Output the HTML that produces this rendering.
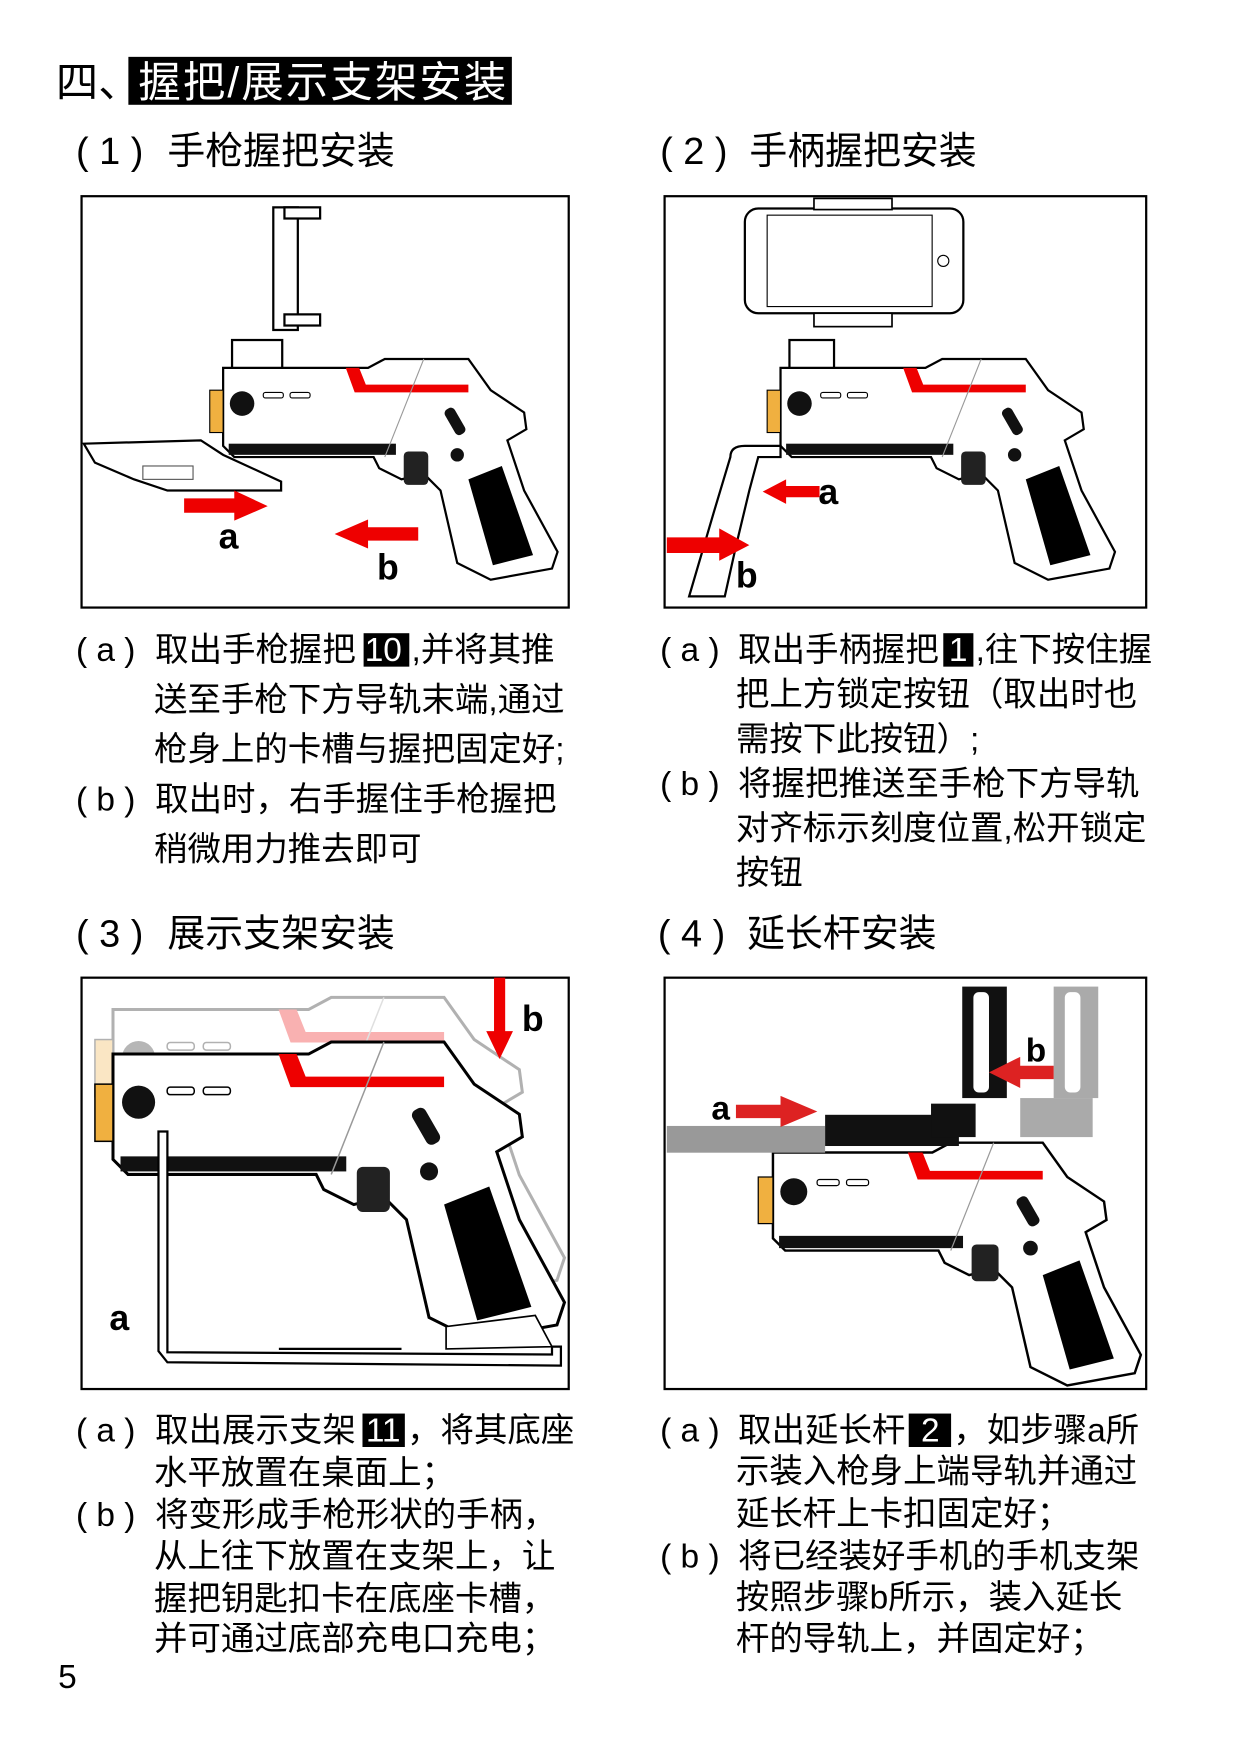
<!DOCTYPE html>
<html><head><meta charset="utf-8"><style>
html,body{margin:0;padding:0;background:#fff;}
svg{display:block;}
text{font-family:"Liberation Sans","Noto Sans CJK SC",sans-serif;fill:#000;}
</style></head><body>
<svg width="1240" height="1748" viewBox="0 0 1112 1568" xmlns="http://www.w3.org/2000/svg">
<defs>
<g id="gun">
  <path d="M200,330 L330,330 L345,322 L420,322 L440,350 L470,370 L472,385 L455,395 L470,440 L500,495 L495,510 L440,520 L410,505 L395,440 L380,425 L360,430 L340,420 L335,410 L210,410 L200,400 Z" fill="#fff" stroke="#000" stroke-width="2"/>
  <path d="M310,330 L322,330 L328,345 L420,345 L420,352 L318,352 Z" fill="#e00"/>
  <path d="M420,430 L450,418 L478,498 L442,507 Z" fill="#000"/>
  <rect x="188" y="350" width="12" height="38" fill="#f0b040" stroke="#000" stroke-width="1"/>
  <circle cx="217" cy="362" r="11" fill="#111"/>
  <rect x="236" y="352" width="18" height="5" rx="2" fill="none" stroke="#000"/>
  <rect x="260" y="352" width="18" height="5" rx="2" fill="none" stroke="#000"/>
  <rect x="205" y="398" width="150" height="10" fill="#111"/>
  <rect x="362" y="405" width="22" height="30" rx="4" fill="#222"/>
  <rect x="403" y="365" width="10" height="26" rx="4" fill="#111" transform="rotate(-30 408 378)"/>
  <circle cx="410" cy="408" r="6" fill="#111"/>
  <line x1="380" y1="322" x2="345" y2="410" stroke="#999" stroke-width="1"/>
</g>
</defs>

<!-- title -->
<text x="50" y="87" font-size="38">四、</text>
<rect x="115" y="51" width="344" height="43" fill="#000"/>
<text x="124" y="87" font-size="38" textLength="330" style="fill:#fff">握把/展示支架安装</text>

<text x="68" y="147" font-size="34">( 1 )</text>
<text x="150" y="147" font-size="34">手枪握把安装</text>
<text x="592" y="147" font-size="34">( 2 )</text>
<text x="672" y="147" font-size="34">手柄握把安装</text>

<!-- box 1 -->
<rect x="73" y="176" width="437" height="369" fill="none" stroke="#000" stroke-width="2"/>
<rect x="245" y="186" width="22" height="110" fill="#fff" stroke="#000" stroke-width="2"/>
<rect x="255" y="186" width="32" height="10" fill="#fff" stroke="#000" stroke-width="2"/>
<rect x="255" y="282" width="32" height="10" fill="#fff" stroke="#000" stroke-width="2"/>
<rect x="208" y="305" width="45" height="28" fill="#fff" stroke="#000" stroke-width="2"/>
<use href="#gun"/>
<path d="M75,398 L180,395 L200,408 L252,432 L252,440 L200,440 L150,440 L120,430 L85,415 Z" fill="#fff" stroke="#000" stroke-width="2"/>
<rect x="128" y="418" width="45" height="12" fill="none" stroke="#555"/>
<path d="M165,447 L210,447 L210,440 L240,454 L210,467 L210,460 L165,460 Z" fill="#e00"/>
<path d="M375,473 L330,473 L330,466 L300,479 L330,492 L330,485 L375,485 Z" fill="#e00"/>
<text x="196" y="492" font-size="32" font-weight="bold">a</text>
<text x="338" y="520" font-size="32" font-weight="bold">b</text>

<!-- box 2 -->
<rect x="596" y="176" width="432" height="369" fill="none" stroke="#000" stroke-width="2"/>
<rect x="668" y="187" width="196" height="94" rx="12" fill="#fff" stroke="#000" stroke-width="2"/>
<rect x="688" y="193" width="148" height="82" fill="#fff" stroke="#000" stroke-width="1"/>
<circle cx="846" cy="234" r="5" fill="none" stroke="#000"/>
<rect x="730" y="178" width="70" height="10" fill="#fff" stroke="#000" stroke-width="1.5"/>
<rect x="730" y="281" width="70" height="12" fill="#fff" stroke="#000" stroke-width="1.5"/>
<rect x="708" y="305" width="40" height="28" fill="#fff" stroke="#000" stroke-width="2"/>
<g transform="translate(500,0)"><use href="#gun"/></g>
<path d="M700,400 L668,400 Q655,400 655,410 L640,460 L618,535 L650,535 L660,490 L672,440 L680,410 L700,410 Z" fill="#fff" stroke="#000" stroke-width="2"/>
<path d="M735,436 L705,436 L705,430 L684,441 L705,452 L705,446 L735,446 Z" fill="#e00"/>
<path d="M598,482 L645,482 L645,474 L672,489 L645,503 L645,496 L598,496 Z" fill="#e00"/>
<text x="734" y="452" font-size="32" font-weight="bold">a</text>
<text x="660" y="527" font-size="32" font-weight="bold">b</text>

<!-- text block 1 -->
<g font-size="30">
<text x="68" y="593">( a )</text>
<text x="139" y="593">取出手枪握把</text>
<rect x="326" y="568" width="41" height="30" fill="#000"/>
<text x="327" y="593" style="fill:#fff">10</text>
<text x="369" y="593">,并将其推</text>
<text x="138" y="638">送至手枪下方导轨末端,通过</text>
<text x="138" y="682">枪身上的卡槽与握把固定好;</text>
<text x="68" y="727">( b )</text>
<text x="139" y="727">取出时，右手握住手枪握把</text>
<text x="138" y="772">稍微用力推去即可</text>

<text x="592" y="593">( a )</text>
<text x="662" y="593">取出手柄握把</text>
<rect x="846" y="568" width="27" height="30" fill="#000"/>
<text x="851" y="593" style="fill:#fff">1</text>
<text x="875" y="593">,往下按住握</text>
<text x="660" y="633">把上方锁定按钮（取出时也</text>
<text x="660" y="673">需按下此按钮）;</text>
<text x="592" y="713">( b )</text>
<text x="662" y="713">将握把推送至手枪下方导轨</text>
<text x="660" y="753">对齐标示刻度位置,松开锁定</text>
<text x="660" y="793">按钮</text>
</g>

<text x="68" y="849" font-size="34">( 3 )</text>
<text x="150" y="849" font-size="34">展示支架安装</text>
<text x="590" y="849" font-size="34">( 4 )</text>
<text x="670" y="849" font-size="34">延长杆安装</text>

<!-- box 3 -->
<rect x="73" y="877" width="437" height="369" fill="none" stroke="#000" stroke-width="2"/>
<g opacity="0.3" transform="translate(-168.8,460) scale(1.35)"><use href="#gun"/></g>
<g transform="translate(-168.8,500) scale(1.35)"><use href="#gun"/></g>
<path d="M142,1015 L142,1212 L150,1222 L503,1225 L503,1208 L495,1208 L495,1215 L150,1213 L150,1015 Z" fill="#fff" stroke="#000" stroke-width="2"/>
<path d="M400,1190 L480,1180 L495,1208 L400,1210 Z" fill="#fff" stroke="#000" stroke-width="1.5"/>
<line x1="250" y1="1210" x2="360" y2="1210" stroke="#000" stroke-width="2"/>
<path d="M443,877 L453,877 L453,925 L460,925 L448,950 L436,925 L443,925 Z" fill="#e00"/>
<text x="468" y="925" font-size="32" font-weight="bold">b</text>
<text x="98" y="1193" font-size="32" font-weight="bold">a</text>

<!-- box 4 -->
<rect x="596" y="877" width="432" height="369" fill="none" stroke="#000" stroke-width="2"/>
<g transform="translate(473.2,670.8) scale(1.1)"><use href="#gun"/></g>
<rect x="598" y="1010" width="142" height="24" fill="#999"/>
<rect x="740" y="1000" width="120" height="28" fill="#111"/>
<rect x="835" y="990" width="40" height="30" fill="#111"/>
<rect x="863" y="885" width="40" height="100" fill="#111"/>
<rect x="873" y="890" width="14" height="90" rx="5" fill="#fff"/>
<rect x="945" y="885" width="40" height="100" fill="#aaa"/>
<rect x="955" y="890" width="14" height="90" rx="5" fill="#fff"/>
<rect x="915" y="985" width="65" height="35" fill="#aaa"/>
<path d="M660,991 L700,991 L700,983 L733,997 L700,1011 L700,1003 L660,1003 Z" fill="#d22"/>
<path d="M945,956 L915,956 L915,948 L887,962 L915,976 L915,968 L945,968 Z" fill="#d22"/>
<text x="638" y="1004" font-size="30" font-weight="bold">a</text>
<text x="920" y="952" font-size="30" font-weight="bold">b</text>

<!-- text block 2 -->
<g font-size="30">
<text x="68" y="1293">( a )</text>
<text x="139" y="1293">取出展示支架</text>
<rect x="325" y="1268" width="38" height="30" fill="#000"/>
<text x="328" y="1293" style="fill:#fff">11</text>
<text x="365" y="1293">，将其底座</text>
<text x="138" y="1331">水平放置在桌面上；</text>
<text x="68" y="1369">( b )</text>
<text x="139" y="1369">将变形成手枪形状的手柄，</text>
<text x="138" y="1406">从上往下放置在支架上，让</text>
<text x="138" y="1444">握把钥匙扣卡在底座卡槽，</text>
<text x="138" y="1480">并可通过底部充电口充电；</text>

<text x="592" y="1293">( a )</text>
<text x="662" y="1293">取出延长杆</text>
<rect x="815" y="1268" width="38" height="30" fill="#000"/>
<text x="826" y="1293" style="fill:#fff">2</text>
<text x="855" y="1293">，如步骤a所</text>
<text x="660" y="1330">示装入枪身上端导轨并通过</text>
<text x="660" y="1368">延长杆上卡扣固定好；</text>
<text x="592" y="1406">( b )</text>
<text x="662" y="1406">将已经装好手机的手机支架</text>
<text x="660" y="1443">按照步骤b所示，装入延长</text>
<text x="660" y="1480">杆的导轨上，并固定好；</text>
</g>

<text x="52" y="1514" font-size="30">5</text>
</svg>
</body></html>
